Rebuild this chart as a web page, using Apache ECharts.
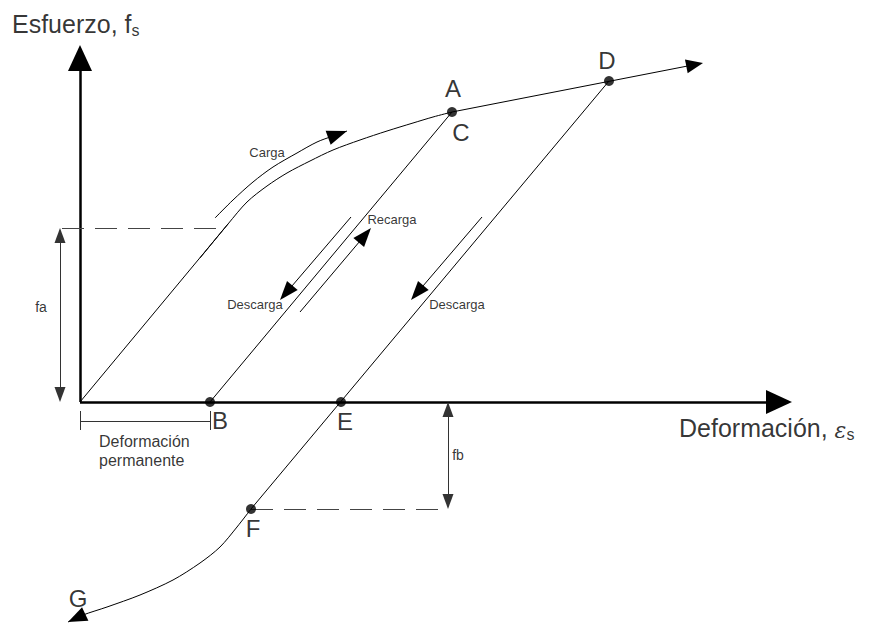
<!DOCTYPE html>
<html>
<head>
<meta charset="utf-8">
<script src="https://cdn.jsdelivr.net/npm/echarts@6/dist/echarts.min.js"></script>
<style>
html,body{margin:0;padding:0;background:#fff}
#main{width:870px;height:624px}
</style>
</head>
<body>
<div id="main"></div>
<script>
// unidades del diagrama: origen en O, 1 unidad = 1 px
let rectaElastica = [[0,0],[148,178]];
let curvaCarga = [[120,144],[148,178],[167,200],[187,216],[207,229],[230,241],[253,252],[280,262],[307,271],[333,279],[353,285],[372,290]];
let tramoAD = [[372,290],[529,321],[623,339]]; // A -> D -> punta
let rectaBA = [[130,0],[372,290]];
let rectaFD = [[171,-107],[529,321]];
let curvaFG = [[171,-107],[157,-125],[140,-145],[120,-161],[93,-178],[60,-193],[27,-205],[3,-213],[-12,-220]];
let flechaCarga = [[135,184],[153,202],[173,220],[193,235],[217,249],[237,260],[253,266],[267,271]];
let flechaRecarga = [[220,90],[291,174]];
let flechaDescarga1 = [[271,185],[200,102]];
let flechaDescarga2 = [[402,185],[331,102]];
let ejeX = [[0,0],[712,0]];
let ejeY = [[0,0],[0,357]];
let cotaFa = [[-20,174],[-20,0]];
let cotaFb = [[368,0],[368,-107]];
let trazoFa = [[-18,174],[145,174]];
let trazoFb = [[171,-107],[368,-107]];
let llave = [[[0,-19],[130,-19]],[[0,-9],[0,-28]],[[130,-9],[130,-28]]];
let puntos = [[372,290],[529,321],[130,0],[261,0],[171,-107]];
let letras = [['A',373,314],['C',381,270],['D',527,342],['B',140,-18],['E',265,-19],['F',173,-126],['G',-2,-196]];
let textosFlechas = [['Carga',187,250],['Recarga',312,183],['Descarga',175,98],['Descarga',377,98]];
let textosCotas = [['fa',-39,95],['fb',378,-53]];

var fuente = "'Liberation Sans', Arial, sans-serif";

// corre la punta hacia atras medio largo de flecha (el simbolo va centrado)
function punta(p0, tip, len) {
    let dx = tip[0] - p0[0], dy = tip[1] - p0[1];
    let L = Math.hypot(dx, dy);
    return [tip[0] - dx / L * len / 2, tip[1] - dy / L * len / 2];
}

function flechaSimple(pts, len) {
    let a = pts[pts.length - 2], b = pts[pts.length - 1];
    return {coords: [a, punta(a, b, len)]};
}

function flechaDoble(pts, len) {
    return {coords: [punta(pts[1], pts[0], len), punta(pts[0], pts[1], len)]};
}

var myChart = echarts.init(document.getElementById("main"), null, {renderer: 'svg'});

var option = {
    animation: false,
    backgroundColor: '#fff',
    grid: {left: 0, right: 0, top: 0, bottom: 0},
    xAxis: {type: 'value', min: -80, max: 790, show: false},
    yAxis: {type: 'value', min: -222, max: 402, show: false},
    series: [
        // ejes
        {
            type: 'lines', coordinateSystem: 'cartesian2d', silent: true,
            symbol: ['none', 'triangle'], symbolSize: [[24, 26], [24, 26]],
            lineStyle: {color: '#000', width: 2.5, opacity: 1},
            data: [flechaSimple(ejeX, 26), flechaSimple(ejeY, 26)]
        },
        // curva de carga
        {
            type: 'line', smooth: 0.3, showSymbol: false, silent: true,
            lineStyle: {color: '#000', width: 1}, data: curvaCarga
        },
        // endurecimiento A -> D
        {
            type: 'lines', coordinateSystem: 'cartesian2d', silent: true,
            symbol: ['none', 'triangle'], symbolSize: [[14, 17], [14, 17]],
            lineStyle: {color: '#000', width: 1, opacity: 1},
            data: [{coords: [tramoAD[0], punta(tramoAD[0], tramoAD[2], 17)]}]
        },
        // tramo elastico y rectas de descarga
        {
            type: 'lines', coordinateSystem: 'cartesian2d', silent: true,
            lineStyle: {color: '#000', width: 1, opacity: 1},
            data: [{coords: rectaElastica}, {coords: rectaBA}, {coords: rectaFD}]
        },
        // curva F -> G
        {
            type: 'line', smooth: 0.3, showSymbol: false, silent: true, clip: false,
            lineStyle: {color: '#000', width: 1}, data: curvaFG
        },
        {
            type: 'lines', coordinateSystem: 'cartesian2d', silent: true, clip: false,
            symbol: ['none', 'triangle'], symbolSize: [[15, 19], [15, 19]],
            lineStyle: {color: '#000', width: 1, opacity: 1},
            data: [flechaSimple(curvaFG, 19)]
        },
        // flecha de carga (curva)
        {
            type: 'line', smooth: 0.3, showSymbol: false, silent: true,
            lineStyle: {color: '#000', width: 1}, data: flechaCarga
        },
        {
            type: 'lines', coordinateSystem: 'cartesian2d', silent: true,
            symbol: ['none', 'triangle'], symbolSize: [[15, 20], [15, 20]],
            lineStyle: {color: '#000', width: 1, opacity: 1},
            data: [flechaSimple(flechaCarga, 20)]
        },
        // flechas de recarga / descarga
        {
            type: 'lines', coordinateSystem: 'cartesian2d', silent: true,
            symbol: ['none', 'triangle'], symbolSize: [[14, 19], [14, 19]],
            lineStyle: {color: '#000', width: 1, opacity: 1},
            data: [flechaSimple(flechaRecarga, 19), flechaSimple(flechaDescarga1, 19), flechaSimple(flechaDescarga2, 19)]
        },
        // cotas fa, fb
        {
            type: 'lines', coordinateSystem: 'cartesian2d', silent: true,
            symbol: ['triangle', 'triangle'], symbolSize: [[11, 15], [11, 15]],
            lineStyle: {color: '#333', width: 1, opacity: 1},
            data: [flechaDoble(cotaFa, 15), flechaDoble(cotaFb, 15)]
        },
        // lineas de trazos
        {
            type: 'lines', coordinateSystem: 'cartesian2d', silent: true,
            lineStyle: {color: '#444', width: 1, type: [22, 11], opacity: 1},
            data: [{coords: trazoFa}, {coords: trazoFb}]
        },
        // deformacion permanente
        {
            type: 'lines', coordinateSystem: 'cartesian2d', silent: true,
            lineStyle: {color: '#333', width: 1, opacity: 1},
            data: llave.map(function (c) { return {coords: c}; })
        },
        // puntos
        {
            type: 'scatter', silent: true, symbolSize: 10, z: 5,
            itemStyle: {color: '#000'}, data: puntos
        },
        // letras
        {
            type: 'scatter', silent: true, symbolSize: 0, z: 6,
            data: letras.map(function (l) { return {name: l[0], value: [l[1], l[2]]}; }),
            label: {show: true, position: 'inside', formatter: '{b}', color: '#000', fontSize: 24, fontFamily: fuente}
        },
        {
            type: 'scatter', silent: true, symbolSize: 0, z: 6,
            data: textosFlechas.map(function (l) { return {name: l[0], value: [l[1], l[2]]}; }),
            label: {show: true, position: 'inside', formatter: '{b}', color: '#000', fontSize: 13, fontFamily: fuente}
        },
        {
            type: 'scatter', silent: true, symbolSize: 0, z: 6,
            data: textosCotas.map(function (l) { return {name: l[0], value: [l[1], l[2]]}; }),
            label: {show: true, position: 'inside', formatter: '{b}', color: '#000', fontSize: 14, fontFamily: fuente}
        },
        // titulos de ejes y leyenda
        {
            type: 'scatter', silent: true, symbolSize: 0, z: 6,
            data: [
                {name: 'Esfuerzo, f{s|s}', value: [-68, 378]},
                {name: 'Deformación, {e|ε}{s|s}', value: [599, -26]},
                {name: 'Deformación', value: [19, -39], label: {fontSize: 16}},
                {name: 'permanente', value: [19, -58], label: {fontSize: 16}}
            ],
            label: {
                show: true, position: 'right', distance: 0, formatter: '{b}',
                color: '#000', fontSize: 25, fontFamily: fuente,
                rich: {
                    s: {fontSize: 16, fontFamily: fuente, color: '#000', padding: [12, 0, 0, 0]},
                    e: {fontSize: 22, fontFamily: "'DejaVu Serif', serif", fontStyle: 'italic', color: '#000', padding: [4, 0, 0, 0]}
                }
            }
        }
    ]
};

myChart.setOption(option);
</script>
</body>
</html>
